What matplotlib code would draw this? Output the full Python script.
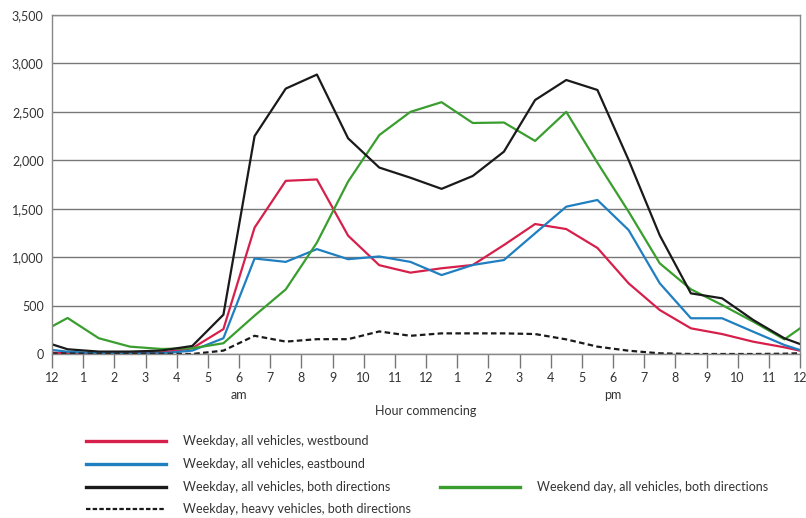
import numpy as np
import matplotlib.pyplot as plt

plt.rcParams['font.family'] = ['Lato', 'DejaVu Sans']

# hourly counts plotted at the middle of each hour, plus the two midnight ends
hours = [0] + [h + 0.5 for h in range(24)] + [24]

westbound = [14, 7, 0, 7, 14, 59, 257, 1305, 1788, 1802, 1222, 917, 840,
             885, 919, 1125, 1342, 1290, 1095, 730, 454, 265, 206, 127, 69, 34]
eastbound = [42, 24, 7, 7, 7, 35, 163, 986, 951, 1083, 979, 1007, 951,
             815, 919, 970, 1246, 1521, 1590, 1280, 730, 369, 369, 230, 93, 41]
both_dirs = [100, 49, 25, 25, 35, 83, 406, 2250, 2740, 2885, 2227, 1925, 1820,
             1705, 1838, 2089, 2622, 2829, 2726, 2003, 1225, 626, 575, 351, 162, 103]
heavy = [5, 5, 3, 3, 3, 0, 35, 188, 128, 153, 153, 233, 188,
         213, 213, 213, 206, 151, 76, 34, 7, 0, 0, 0, 3, 8]
weekend = [285, 372, 163, 76, 52, 59, 111, 396, 667, 1150, 1780, 2260, 2500,
           2600, 2385, 2390, 2200, 2500, 1975, 1470, 936, 668, 506, 334, 151, 265]

tick_labels = ['12'] + [str(h) for h in range(1, 12)] + ['12'] + \
              [str(h) for h in range(1, 12)] + ['12']

red = '#d6204b'
blue = '#1f7fc0'
green = '#3a9e2f'

fig = plt.figure(figsize=(8.06, 5.18), dpi=100)
ax = fig.add_axes([52 / 806, 164 / 518, 748 / 806, 339 / 518])

ax.plot(hours, westbound, color=red, lw=1.6)
ax.plot(hours, eastbound, color=blue, lw=1.6)
ax.plot(hours, weekend, color=green, lw=1.6)
ax.plot(hours, both_dirs, color='#1a1a1a', lw=1.6)
ax.plot(hours, heavy, color='#1a1a1a', lw=1.6, ls=(0, (2.5, 1.5)))

ax.set_xlim(0, 24)
ax.set_ylim(0, 3500)
ax.set_yticks(np.arange(0, 3501, 500))
ax.set_yticklabels([f'{v:,}' for v in range(0, 3501, 500)], fontsize=9, color='#333333')
ax.set_xticks(range(25))
ax.set_xticklabels(tick_labels, fontsize=9, color='#333333')
ax.tick_params(axis='x', length=10, width=1, color='#777777', pad=3)
ax.tick_params(axis='y', length=0, pad=6)
ax.grid(axis='y', color='#777777', lw=1)
ax.set_axisbelow(True)
for s in ax.spines.values():
    s.set_color('#888888')
    s.set_linewidth(1)

ax.text(6, -420, 'am', ha='center', va='center', fontsize=9, color='#333333')
ax.text(18, -420, 'pm', ha='center', va='center', fontsize=9, color='#333333')
ax.text(12, -585, 'Hour commencing', ha='center', va='center', fontsize=9, color='#333333')

# legend drawn by hand, two columns
def legend_row(x0, y, color, label, ls='-'):
    fig.lines.append(plt.Line2D([x0 / 806, (x0 + 80) / 806], [1 - y / 518] * 2,
                                color=color, lw=2.4 if ls == '-' else 1.6,
                                ls=ls, transform=fig.transFigure))
    fig.text((x0 + 97) / 806, 1 - y / 518, label, fontsize=9, color='#333333',
             va='center', ha='left')

legend_row(86, 441, red, 'Weekday, all vehicles, westbound')
legend_row(86, 464, blue, 'Weekday, all vehicles, eastbound')
legend_row(86, 487, '#1a1a1a', 'Weekday, all vehicles, both directions')
legend_row(86, 509, '#1a1a1a', 'Weekday, heavy vehicles, both directions', ls=(0, (2, 1)))
legend_row(440, 487, green, 'Weekend day, all vehicles, both directions')

fig.savefig('out.png', dpi=100)
